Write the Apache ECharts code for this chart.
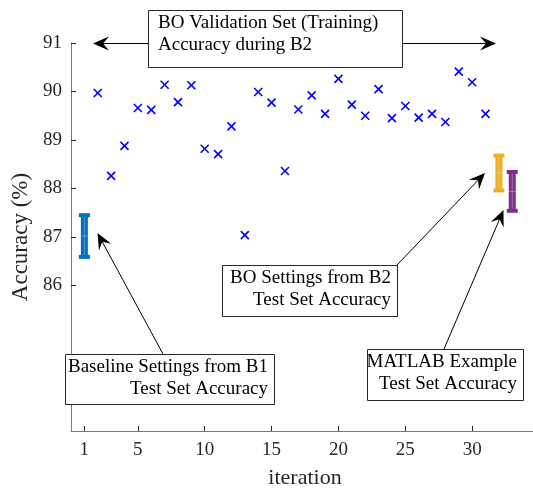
<!DOCTYPE html>
<html>
<head>
<meta charset="utf-8">
<script src="https://cdn.jsdelivr.net/npm/echarts@6/dist/echarts.min.js"></script>
<style>
  html, body { margin: 0; padding: 0; background: #fff; }
  #chart { width: 533px; height: 489px; }
</style>
</head>
<body>
<div id="chart"></div>
<script>
// BO validation accuracy per iteration (as placed on the axis)
const iterX = [2, 3, 4, 5, 6, 7, 8, 9, 10, 11, 12, 13, 14, 15, 16, 17, 18, 19, 20, 21, 22, 23, 24, 25, 26, 27, 28, 29, 30, 31];
const valAcc = [89.97, 88.26, 88.88, 89.66, 89.62, 90.14, 89.78, 90.13, 88.82, 88.71, 89.28, 87.04, 89.99, 89.77, 88.36,
  89.63, 89.92, 89.54, 90.26, 89.73, 89.50, 90.05, 89.45, 89.70, 89.46, 89.54, 89.37, 90.41, 90.19, 89.54];

// test set accuracy error bars: baseline, BO settings, MATLAB example
const testX = [1, 32, 33];
const testMean = [87.02, 88.32, 87.94];
const testErr = [0.43, 0.36, 0.40];
const testColors = ["#0072BD", "#EDB120", "#7E2F8E"];

const xTicks = [1, 5, 10, 15, 20, 25, 30];
const yTicks = [86, 87, 88, 89, 90, 91];

const font = "'Liberation Serif', 'Times New Roman', serif";
const axisColor = "#7a7a7a";

const chart = echarts.init(document.getElementById("chart"));

function crossItem(params, api) {
  const p = api.coord([api.value(0), api.value(1)]);
  const r = 4;
  const style = { stroke: "#0000ff", lineWidth: 1.6 };
  return {
    type: "group",
    children: [
      { type: "line", shape: { x1: p[0] - r, y1: p[1] - r, x2: p[0] + r, y2: p[1] + r }, style },
      { type: "line", shape: { x1: p[0] - r, y1: p[1] + r, x2: p[0] + r, y2: p[1] - r }, style },
    ],
  };
}

function errItem(params, api) {
  const x = api.value(0), m = api.value(1), e = api.value(2);
  const top = api.coord([x, m + e]);
  const bot = api.coord([x, m - e]);
  const mid = api.coord([x, m]);
  const c = testColors[params.dataIndex];
  const bw = 7, cw = 11, ch = 4;
  return {
    type: "group",
    children: [
      { type: "rect", shape: { x: top[0] - bw / 2, y: top[1], width: bw, height: bot[1] - top[1] }, style: { fill: c } },
      { type: "rect", shape: { x: top[0] - cw / 2, y: top[1] - ch / 2, width: cw, height: ch }, style: { fill: c } },
      { type: "rect", shape: { x: bot[0] - cw / 2, y: bot[1] - ch / 2, width: cw, height: ch }, style: { fill: c } },
      { type: "line", shape: { x1: top[0], y1: top[1] + 2, x2: bot[0], y2: bot[1] - 2 }, style: { stroke: "rgba(255,255,255,0.3)", lineWidth: 1 } },
      { type: "line", shape: { x1: mid[0] - bw / 2, y1: mid[1], x2: mid[0] + bw / 2, y2: mid[1] }, style: { stroke: "rgba(255,255,255,0.3)", lineWidth: 1 } },
    ],
  };
}

// annotation arrow: line with a swept-back filled head at (x2, y2)
function arrow(x1, y1, x2, y2) {
  const a = Math.atan2(y2 - y1, x2 - x1);
  const L = 16, W = 7, N = 10;
  const pt = (d, s) => [x2 - d * Math.cos(a) - s * Math.sin(a), y2 - d * Math.sin(a) + s * Math.cos(a)];
  return [
    { type: "line", shape: { x1, y1, x2: pt(N, 0)[0], y2: pt(N, 0)[1] }, style: { stroke: "#000", lineWidth: 1 }, z: 10 },
    { type: "polygon", shape: { points: [[x2, y2], pt(L, W), pt(N, 0), pt(L, -W)] }, style: { fill: "#000" }, z: 10 },
  ];
}

function textBox(x, y, w, h, text, align) {
  return [
    { type: "rect", shape: { x: x + 0.5, y: y + 0.5, width: w, height: h }, style: { fill: "#fff", stroke: "#262626", lineWidth: 1 }, z: 11 },
    {
      type: "text", z: 12,
      x: align === "right" ? x + w - 6 : x + 10,
      y: y + 2,
      style: { text, font: "19px " + font, fill: "#000", align, verticalAlign: "top", lineHeight: 22 },
    },
  ];
}

const graphics = [].concat(
  arrow(148, 43.5, 93, 43.5),
  arrow(402, 43.5, 496, 43.5),
  arrow(397, 265, 485, 173),
  arrow(163, 354, 97.5, 233),
  arrow(444, 349, 503.5, 210),
  textBox(148, 10, 254, 57, "BO Validation Set (Training)\nAccuracy during B2", "left"),
  textBox(222, 265, 175, 51, "BO Settings from B2\nTest Set Accuracy", "right"),
  textBox(65, 354, 209, 50, "Baseline Settings from B1\nTest Set Accuracy", "right"),
  textBox(367, 349, 156, 51, "MATLAB Example\nTest Set Accuracy", "right")
);

chart.setOption({
  animation: false,
  grid: { left: 71, right: -6, top: 43, bottom: 58, outerBoundsMode: "none", containLabel: false },
  xAxis: {
    type: "value",
    min: 0,
    max: 35,
    name: "iteration",
    nameLocation: "middle",
    nameGap: 36,
    nameTextStyle: { fontFamily: font, fontSize: 22, color: "#262626" },
    axisLine: { lineStyle: { color: axisColor, width: 1 } },
    axisTick: { inside: true, length: 5, customValues: xTicks, lineStyle: { color: "#262626" } },
    axisLabel: { customValues: xTicks, margin: 10, fontFamily: font, fontSize: 19, color: "#262626" },
    splitLine: { show: false },
  },
  yAxis: {
    type: "value",
    min: 83,
    max: 91,
    name: "Accuracy (%)",
    nameLocation: "middle",
    nameRotate: 90,
    nameGap: 29,
    nameTextStyle: { fontFamily: font, fontSize: 23, color: "#262626" },
    axisLine: { show: true, lineStyle: { color: axisColor, width: 1 } },
    axisTick: { show: true, inside: true, length: 5, customValues: yTicks, lineStyle: { color: "#262626" } },
    axisLabel: { customValues: yTicks, margin: 9, fontFamily: font, fontSize: 19, color: "#262626" },
    splitLine: { show: false },
  },
  series: [
    {
      type: "custom",
      renderItem: crossItem,
      data: iterX.map((x, i) => [x, valAcc[i]]),
      clip: false,
    },
    {
      type: "custom",
      renderItem: errItem,
      data: testX.map((x, i) => [x, testMean[i], testErr[i]]),
      clip: false,
    },
  ],
  graphic: graphics,
});
</script>
</body>
</html>
